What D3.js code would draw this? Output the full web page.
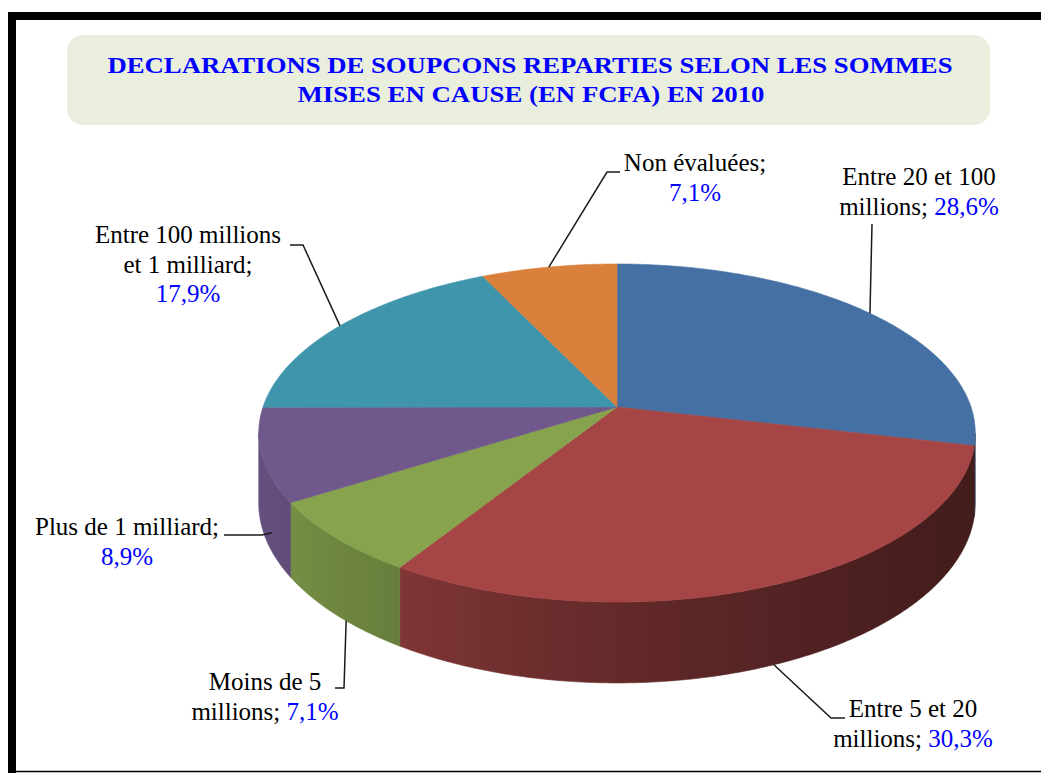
<!DOCTYPE html>
<html><head><meta charset="utf-8">
<script src="https://cdn.jsdelivr.net/npm/d3@7"></script>
<style>html,body{margin:0;padding:0;background:#fff;}svg{display:block;}</style>
</head><body>
<script>
// ---------- data ----------
const categories = ["Entre 20 et 100 millions", "Entre 5 et 20 millions", "Moins de 5 millions",
  "Plus de 1 milliard", "Entre 100 millions et 1 milliard", "Non évaluées"];
const values = [28.6, 30.3, 7.1, 8.9, 17.9, 7.1];
const pctLabels = ["28,6%", "30,3%", "7,1%", "8,9%", "17,9%", "7,1%"];
const labelLines = [["Entre 20 et 100", "millions;"], ["Entre 5 et 20", "millions;"], ["Moins de 5", "millions;"],
  ["Plus de 1 milliard;"], ["Entre 100 millions", "et 1 milliard;"], ["Non évaluées;"]];
const titleLines = ["DECLARATIONS DE SOUPCONS REPARTIES SELON LES SOMMES", "MISES EN CAUSE (EN FCFA) EN 2010"];

// ---------- style / layout ----------
const W = 1041, H = 773;
const colors = ["#4570A3", "#A64545", "#87A34E", "#70588C", "#3F95AC", "#D9803D"];
const pctNewLine = [false, false, false, true, true, true];
const labelLayout = [
  {x: 919, y: 185, leader: [[872, 224]], frac: 0.5, edge: 0},
  {x: 913, y: 717, leader: [[845, 718], [831, 718]], frac: 0.5, edge: 1},
  {x: 265, y: 690, leader: [[335, 688], [344, 688]], frac: 0.41, edge: 1},
  {x: 127, y: 535, leader: [[224, 535], [262, 535]], frac: 0.26, edge: 0.75},
  {x: 188, y: 243, leader: [[290, 245], [303, 245]], frac: 0.5, edge: 0},
  {x: 695, y: 171, leader: [[620, 172], [607, 172]], frac: 0.5, edge: 0}
];
const lineH = 29.5;

// perspective pie geometry
const cx = 617, cy = 407, kx = 354, my = 165, persp = 0.1538, thick = 68.5;
function proj(theta, h) {
  const d = 1 + persp * Math.cos(theta);
  return [cx + kx * Math.sin(theta) / d, cy - my * Math.cos(theta) / d + h * thick / d];
}
const visLo = Math.acos(-persp), visHi = 2 * Math.PI - Math.acos(-persp);

const svg = d3.select("body").append("svg").attr("width", W).attr("height", H);
const defs = svg.append("defs");

// frame
svg.append("rect").attr("x", 8).attr("y", 12).attr("width", W - 8).attr("height", 8).attr("fill", "#000");
svg.append("rect").attr("x", 8).attr("y", 12).attr("width", 8).attr("height", H - 12).attr("fill", "#000");
svg.append("line").attr("x1", 8).attr("x2", W).attr("y1", 771.5).attr("y2", 771.5).attr("stroke", "#000").attr("stroke-width", 1.5);

// title box
svg.append("rect").attr("x", 67).attr("y", 35).attr("width", 923).attr("height", 90).attr("rx", 16)
  .attr("fill", "#EAEEDD");
const titleG = svg.append("g").attr("font-family", "'Liberation Serif', 'Times New Roman', serif")
  .attr("font-weight", "bold").attr("font-size", 24).attr("fill", "#0000FF").attr("text-anchor", "middle");
titleG.append("text").attr("x", 530).attr("y", 72.5).attr("textLength", 845).attr("lengthAdjust", "spacingAndGlyphs").text(titleLines[0]);
titleG.append("text").attr("x", 531).attr("y", 101.5).attr("textLength", 467).attr("lengthAdjust", "spacingAndGlyphs").text(titleLines[1]);

// pie
const pie = d3.pie().sort(null).value(d => d).startAngle(0).endAngle(2 * Math.PI);
const arcs = pie(values);
const line = d3.line();
function arcPts(a, b, h) {
  const n = Math.max(2, Math.ceil((b - a) / 0.01));
  return d3.range(n + 1).map(i => proj(a + (b - a) * i / n, h));
}

// lighting gradient for the side walls
const gx0 = cx - 359, gx1 = cx + 359;
function darkAt(x) { return 0.75 + (x - 402) * 0.0031; }
const wallG = svg.append("g");
arcs.forEach((a, i) => {
  const lo = Math.max(a.startAngle, visLo), hi = Math.min(a.endAngle, visHi);
  if (hi <= lo) return;
  const gid = "wg" + i;
  const grad = defs.append("linearGradient").attr("id", gid).attr("gradientUnits", "userSpaceOnUse")
    .attr("x1", gx0).attr("x2", gx1).attr("y1", 0).attr("y2", 0);
  d3.range(11).forEach(s => {
    const x = gx0 + (gx1 - gx0) * s / 10;
    grad.append("stop").attr("offset", s / 10).attr("stop-color", d3.color(colors[i]).darker(Math.max(0.25, darkAt(x))).formatHex());
  });
  const pts = arcPts(lo, hi, 0).concat(arcPts(lo, hi, 1).reverse());
  wallG.append("path").attr("d", line(pts) + "Z").attr("fill", `url(#${gid})`)
    .attr("stroke", `url(#${gid})`).attr("stroke-width", 0.6);
});

const topG = svg.append("g");
arcs.forEach((a, i) => {
  const pts = [[cx, cy]].concat(arcPts(a.startAngle, a.endAngle, 0));
  topG.append("path").attr("d", line(pts) + "Z").attr("fill", colors[i]).attr("stroke", colors[i]).attr("stroke-width", 0.6);
});

// leaders and labels
const labG = svg.append("g").attr("font-family", "'Liberation Serif', 'Times New Roman', serif").attr("font-size", 25);
arcs.forEach((a, i) => {
  const L = labelLayout[i];
  const ang = a.startAngle + (a.endAngle - a.startAngle) * L.frac;
  const end = proj(ang, L.edge);
  labG.append("path").attr("d", line(L.leader.concat([end]))).attr("fill", "none")
    .attr("stroke", "#1a1a1a").attr("stroke-width", 1.5);
  const t = labG.append("text").attr("text-anchor", "middle").attr("fill", "#000");
  const lines = labelLines[i];
  lines.forEach((ln, j) => {
    t.append("tspan").attr("x", L.x).attr("y", L.y + j * lineH).text(ln);
    if (j === lines.length - 1 && !pctNewLine[i]) {
      t.append("tspan").attr("fill", "#0000FF").text(" " + pctLabels[i]);
    }
  });
  if (pctNewLine[i]) {
    t.append("tspan").attr("x", L.x).attr("y", L.y + lines.length * lineH).attr("fill", "#0000FF").text(pctLabels[i]);
  }
});
</script>
</body></html>
